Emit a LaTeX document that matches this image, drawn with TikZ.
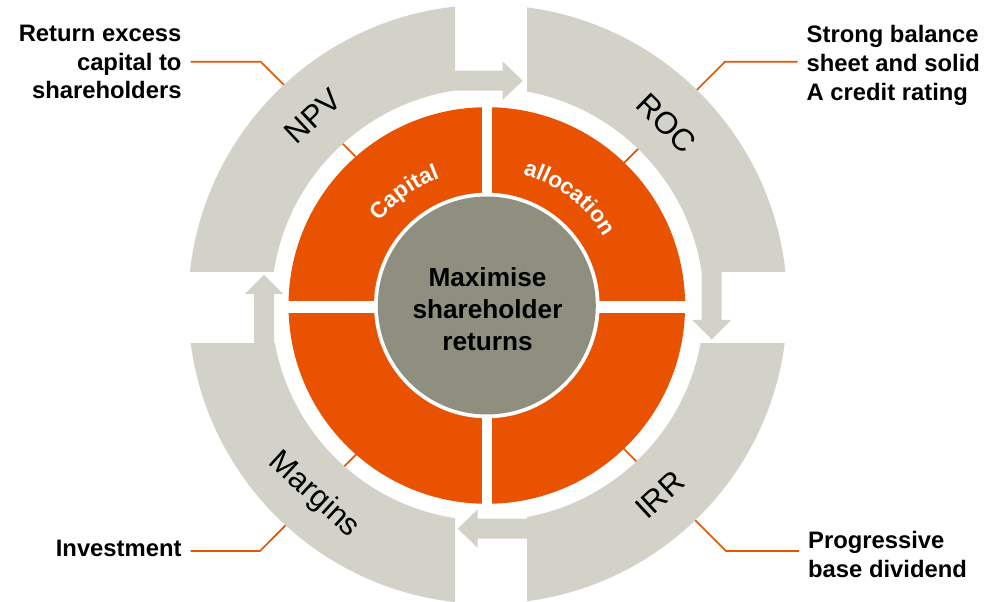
\documentclass[tikz,border=0pt]{standalone}
\usepackage{fontspec}
\setmainfont{Liberation Sans}
\usetikzlibrary{decorations.text}
\definecolor{ringgray}{RGB}{210,210,200}
\definecolor{hubgray}{RGB}{143,143,128}
\definecolor{accent}{RGB}{232,82,0}
\newcommand\inringfont{\color{white}\bfseries\fontsize{22.5}{22.5}\selectfont}

\begin{document}
\begin{tikzpicture}[x=1pt,y=1pt,
  callout/.style={draw=accent, line width=1.7pt},
  segment/.style={fill=ringgray},
  ringlabel/.style={font=\fontsize{31}{31}\selectfont, inner sep=0pt},
  note/.style={font=\bfseries\fontsize{23.8}{28.8}\selectfont, inner ysep=0pt, inner xsep=9pt},
  hubtext/.style={font=\bfseries\fontsize{26.2}{32}\selectfont, align=center, inner sep=0pt},
]
\useasboundingbox (0,0) rectangle (986,602);
\coordinate (G) at (487.7,297.7);   % centre of the grey outer ring
\coordinate (R) at (486.8,296.5);   % centre of the orange ring and hub

% ---- callout texts
\node[note, align=right, anchor=east] (tNW) at (190.7,540) {Return excess\\capital to\\shareholders};
\node[note, align=left, anchor=west] (tNE) at (797.5,536.5) {Strong balance\\sheet and solid\\A credit rating};
\node[note, align=left, anchor=west] (tSE) at (799,47.2) {Progressive\\base dividend};
\node[note, anchor=east] (tSW) at (190.7,53.2) {Investment};

% ---- callout leader lines (run under the rings)
\coordinate (bNW) at (260.7,540.3);
\coordinate (eNW) at (379,422);
\coordinate (bNE) at (725,540.3);
\coordinate (eNE) at (600,415);
\coordinate (bSE) at (726,51);
\coordinate (eSE) at (600,177);
\coordinate (bSW) at (260,51);
\coordinate (eSW) at (380,171.5);
\draw[callout] (tNW.east |- bNW) -- (bNW) -- (eNW);
\draw[callout] (tNE.west |- bNE) -- (bNE) -- (eNE);
\draw[callout] (tSE.west |- bSE) -- (bSE) -- (eSE);
\draw[callout] (tSW.east |- bSW) -- (bSW) -- (eSW);

% ---- grey ring quadrants
\begin{scope}
  \clip (0,330) rectangle (455,602);
  \fill[segment, even odd rule] (G) circle[radius=299.5] (G) circle[radius=216.3];
\end{scope}
\begin{scope}
  \clip (527,330) rectangle (986,602);
  \fill[segment, even odd rule] (G) circle[radius=299.5] (G) circle[radius=216.3];
\end{scope}
\begin{scope}
  \clip (527,0) rectangle (986,258);
  \fill[segment, even odd rule] (G) circle[radius=299.5] (G) circle[radius=216.3];
\end{scope}
\begin{scope}
  \clip (0,0) rectangle (455,258);
  \fill[segment, even odd rule] (G) circle[radius=299.5] (G) circle[radius=216.3];
\end{scope}

% ---- arrows between the quadrants (clockwise)
\fill[segment] (450,531.3) -- (502.7,531.3) -- (502.7,540.5) -- (522.7,521.3)
  -- (502.7,502.1) -- (502.7,511.3) -- (450,511.3) -- cycle;
\fill[segment] (701.7,334) -- (701.7,282) -- (692.3,282) -- (711.7,262.7)
  -- (731.1,282) -- (721.7,282) -- (721.7,334) -- cycle;
\fill[segment] (531,83.3) -- (477.7,83.3) -- (477.7,92.5) -- (457.7,73.3)
  -- (477.7,54.1) -- (477.7,63.3) -- (531,63.3) -- cycle;
\fill[segment] (254,254) -- (254,308) -- (244.8,308) -- (264,327.2)
  -- (283.2,308) -- (274,308) -- (274,254) -- cycle;

% ---- ring labels
\node[ringlabel, rotate=43] (npv) at (312.7,486) {NPV};
\node[ringlabel, rotate=-44.5] (roc) at (666.7,478.7) {ROC};
\node[ringlabel, rotate=42.5] (irr) at (660,107) {IRR};
\node[ringlabel, rotate=-42.5] (margins) at (314,107) {Margins};

% ---- orange ring split into quarters
\fill[accent] (R) circle[radius=198.3];
\fill[white] (482,95) rectangle (492,498);
\fill[white] (285,289) rectangle (689,300.5);
\fill[white] (R) circle[radius=112.8];
\fill[hubgray] (R) circle[radius=109];

\path[decorate, decoration={text along path, text align=center,
  text={|\inringfont|Capital}}]
  ([shift={(150:136)}]R) arc[start angle=150, end angle=102, radius=136];
\path[decorate, decoration={text along path, text align=center,
  text={|\inringfont|allocation}}]
  ([shift={(80:136)}]R) arc[start angle=80, end angle=25, radius=136];

% ---- hub
\node[hubtext] (hub) at (487.5,293.3) {Maximise\\shareholder\\returns};
\end{tikzpicture}
\end{document}
